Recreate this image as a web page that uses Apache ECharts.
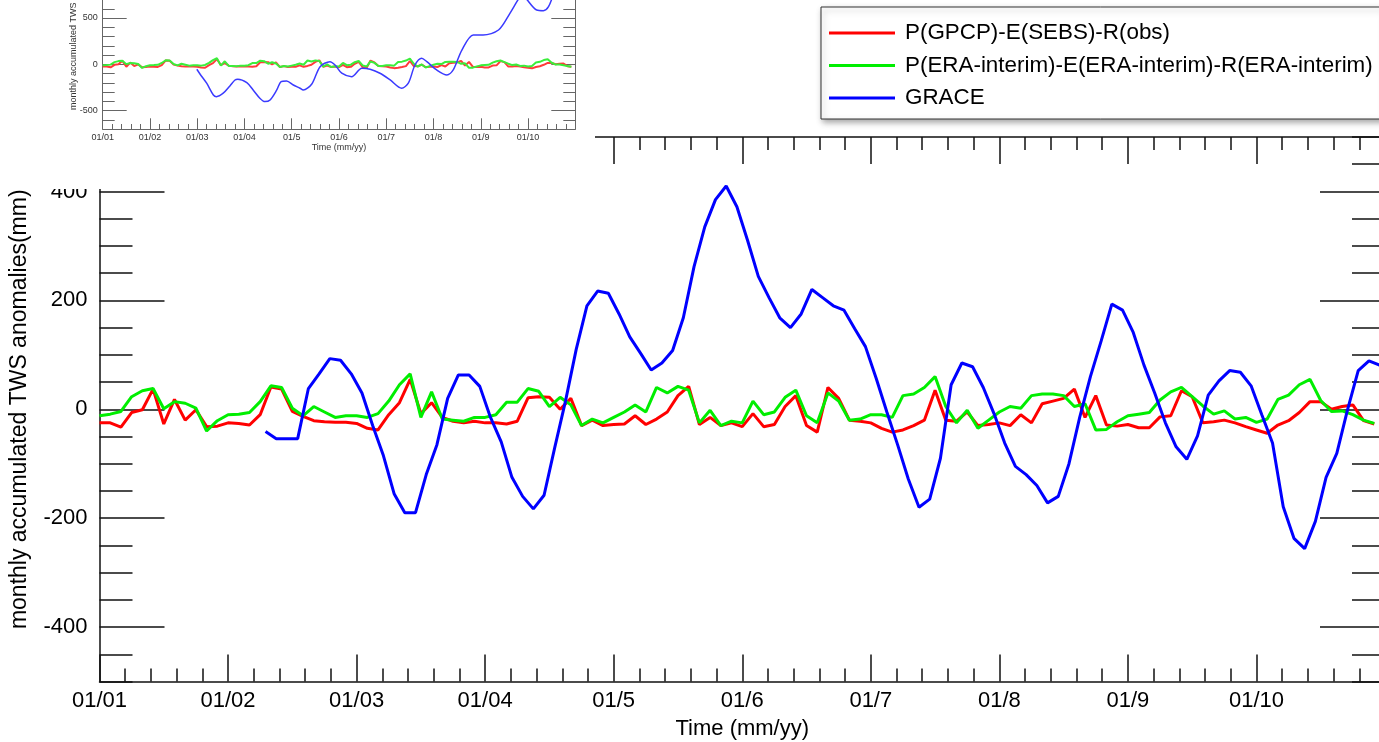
<!DOCTYPE html>
<html>
<head>
<meta charset="utf-8">
<title>TWS anomalies</title>
<script src="https://cdn.jsdelivr.net/npm/echarts@6/dist/echarts.min.js"></script>
<style>
html, body { margin: 0; padding: 0; background: #fff; }
#chart { width: 1379px; height: 742px; }
</style>
</head>
<body>
<div id="chart"></div>
<script>
// x = month index, 0 = Jan 2001
var yearLabels = ['01/01', '01/02', '01/03', '01/04', '01/5', '01/6', '01/7', '01/8', '01/9', '01/10'];

// P(GPCP)-E(SEBS)-R(obs), one value per month
var gpcpSebs = [
  -25, -25, -33, -6, -1, 37, -27, 18, -20, -1, -32, -31,
  -25, -26, -29, -10, 41, 37, -4, -13, -21, -23, -24, -24,
  -26, -35, -38, -10, 12, 55, -8, 12, -15, -22, -25, -22,
  -25, -25, -27, -22, 21, 23, 22, 0, 20, -30, -20, -30,
  -28, -27, -12, -28, -18, -5, 25, 42, -28, -15, -30, -25,
  -32, -8, -32, -28, 5, 25, -30, -42, 40, 20, -20, -22,
  -25, -35, -42, -38, -30, -20, 35, -20, -22, -5, -30, -28,
  -25, -30, -10, -25, 10, 15, 20, 37, -15, 25, -29, -31,
  -28, -34, -34, -14, -12, 34, 23, -25, -23, -20, -25, -32,
  -38, -44, -29, -21, -6, 14, 14, 0, 5, 8, -21, -27
];

// P(ERA-interim)-E(ERA-interim)-R(ERA-interim)
var eraInterim = [
  -12, -9, -4, 23, 34, 38, 1, 14, 11, 2, -40, -21,
  -10, -9, -6, 14, 43, 40, 2, -12, 5, -5, -15, -12,
  -12, -15, -8, 15, 45, 65, -15, 32, -18, -20, -22, -15,
  -15, -10, 13, 13, 38, 33, 5, 22, 8, -30, -18, -25,
  -15, -5, 8, -5, 40, 30, 42, 35, -25, -2, -30, -22,
  -25, 15, -10, -5, 22, 35, -12, -25, 30, 15, -20, -18,
  -10, -10, -15, 25, 28, 40, 60, 5, -25, -2, -35, -20,
  -5, 5, 2, 25, 28, 28, 25, 5, 10, -38, -37, -23,
  -12, -9, -6, 17, 32, 40, 23, 6, -9, -3, -18, -15,
  -24, -18, 18, 26, 45, 55, 16, -4, -3, -10, -20, -26
];

// GRACE, mid-month values from Apr 2002
var graceStart = 15.5;
var grace = [
  -41, -54, -54, -54, 38, 65, 93, 90, 65,
  30, -30, -85, -155, -190, -190, -120, -65, 20, 63, 63, 42,
  -15, -60, -125, -160, -183, -158, -70, 15, 110, 190, 217, 213,
  175, 133, 103, 72, 85, 108, 168, 262, 335, 385, 410, 372,
  310, 244, 205, 168, 150, 175, 220, 205, 190, 182, 148, 115,
  57, -5, -65, -128, -180, -165, -90, 45, 85, 78, 40, -8,
  -62, -105, -120, -140, -172, -160, -100, -15, 60, 125, 193, 182,
  141, 81, 30, -25, -69, -92, -49, 26, 52, 71, 68, 43,
  -10, -62, -179, -237, -256, -206, -125, -81, -1, 71, 89, 81
];

// inset: the original plot with the accumulated GRACE curve
var insetGraceMonths = [23.9, 24.7, 26.4, 28.1, 28.9, 30.6, 32.3, 33.6, 34.3, 36.6, 38.2, 39.9, 41.2, 42.5, 44.2, 45.3,
  46.7, 48.4, 50.1, 50.9, 53.1, 55.2, 57.7, 59.0, 60.7, 63.2, 65.8, 67.9, 70.4, 73.0, 75.9, 77.6, 79.3, 81.0,
  82.3, 84.8, 87.4, 89.0, 91.2, 94.1, 96.6, 100.5, 103.4, 105.5, 106.6, 107.7, 110.2, 111.9, 113.2, 114.5, 116];
var insetGrace = [-54, -105, -205, -332, -350, -313, -234, -170, -162, -199, -278, -367, -404, -386, -278, -188,
  -180, -224, -259, -278, -213, -26, 28, -8, -97, -134, -43, -54, -97, -170, -259, -205, -8, 65,
  28, -62, -116, -62, 154, 316, 316, 370, 551, 700, 760, 700, 586, 579, 622, 760, 900];

var yMajor = [-400, -200, 0, 200, 400];
var insetYMajor = [-500, 0, 500];

var seriesNames = ['P(GPCP)-E(SEBS)-R(obs)', 'P(ERA-interim)-E(ERA-interim)-R(ERA-interim)', 'GRACE'];
var colors = ['#ff0000', '#00ee00', '#0000ff'];
var font = '"Liberation Sans", Arial, Helvetica, sans-serif';

function monthPairs(arr, start) {
    var out = [];
    for (var i = 0; i < arr.length; i++) out.push([start + i, arr[i]]);
    return out;
}
function zipPairs(xs, ys) {
    var out = [];
    for (var i = 0; i < xs.length; i++) out.push([xs[i], ys[i]]);
    return out;
}
function yearLabel(v) {
    var i = Math.round(v / 12);
    return (v % 12 === 0 && i < yearLabels.length) ? yearLabels[i] : '';
}

var chart = echarts.init(document.getElementById('chart'));

function mainX(pos) {
    return {
        type: 'value', gridIndex: 0, position: pos, min: 0, max: 120, interval: 12,
        axisLine: { show: true, onZero: false, lineStyle: { color: '#111', width: 1.5 } },
        axisTick: { show: true, inside: true, length: 27, lineStyle: { color: '#111', width: 1.5 } },
        minorTick: { show: true, splitNumber: 5, length: 13, lineStyle: { color: '#111', width: 1.5 } },
        splitLine: { show: false },
        axisLabel: pos === 'bottom' ? {
            formatter: yearLabel, margin: 8, fontSize: 22, fontFamily: font, color: '#000',
            showMaxLabel: false
        } : { show: false },
        name: pos === 'bottom' ? 'Time (mm/yy)' : '',
        nameLocation: 'middle', nameGap: 36,
        nameTextStyle: { fontSize: 22, fontFamily: font, color: '#000' }
    };
}
function mainY(pos, major) {
    var ax = {
        type: 'value', gridIndex: 0, position: pos, min: -500, max: 500,
        axisLine: { show: !major, onZero: false, lineStyle: { color: '#111', width: 1.5 } },
        splitLine: { show: false },
        axisLabel: { show: false }
    };
    if (major) {
        ax.axisTick = { show: true, inside: true, length: 65, customValues: yMajor, lineStyle: { color: '#111', width: 1.5 } };
        if (pos === 'left') {
            ax.axisLabel = { show: true, customValues: yMajor, margin: 12, fontSize: 22, fontFamily: font, color: '#000' };
        }
    } else {
        ax.interval = 50;
        ax.axisTick = { show: true, inside: true, length: 33, lineStyle: { color: '#111', width: 1.5 } };
        if (pos === 'left') {
            ax.name = 'monthly accumulated TWS anomalies(mm)';
            ax.nameLocation = 'middle';
            ax.nameGap = 68;
            ax.nameTextStyle = { fontSize: 23, fontFamily: font, color: '#000' };
        }
    }
    return ax;
}
function insetY(pos, major) {
    var ax = {
        type: 'value', gridIndex: 1, position: pos, min: -700, max: 700, z: 20,
        axisLine: { show: !major, onZero: false, lineStyle: { color: '#666', width: 1 } },
        splitLine: { show: false },
        axisLabel: { show: false }
    };
    if (major) {
        ax.axisTick = { show: true, inside: true, length: 24, customValues: insetYMajor, lineStyle: { color: '#666', width: 1 } };
        if (pos === 'left') {
            ax.axisLabel = { show: true, customValues: insetYMajor, margin: 5, fontSize: 9, fontFamily: font, color: '#333' };
        }
    } else {
        ax.interval = 100;
        ax.axisTick = { show: true, inside: true, length: 12, lineStyle: { color: '#666', width: 1 } };
    }
    return ax;
}

var option = {
    animation: false,
    backgroundColor: '#fff',
    grid: [
        // main plot runs on to Jan 2011, a few pixels past the right edge of the picture
        { left: 99.5, top: 137, width: 1285.5, height: 544.5, outerBoundsMode: 'none' },
        { left: 102.7, top: -0.5, width: 472.6, height: 129.5, outerBoundsMode: 'none' }
    ],
    graphic: [
        { type: 'rect', z: 10, shape: { x: 0, y: 0, width: 595, height: 189 }, style: { fill: '#fff' } },
        {
            type: 'text', z: 30, x: 74, y: 110, rotation: Math.PI / 2,
            style: {
                text: 'monthly accumulated TWS anomalies(mm)', font: '9px ' + font, fill: '#333',
                textAlign: 'left', textVerticalAlign: 'middle'
            }
        }
    ],
    legend: {
        data: seriesNames, orient: 'vertical', left: 821, top: 7,
        padding: [13, 10, 8, 8], itemGap: 6.5, itemWidth: 66, itemHeight: 3, icon: 'rect',
        backgroundColor: '#fff', borderColor: '#333', borderWidth: 1,
        shadowColor: 'rgba(0,0,0,0.35)', shadowBlur: 6, shadowOffsetX: 2, shadowOffsetY: 3,
        selectedMode: false,
        textStyle: { fontFamily: font, fontSize: 22.4, color: '#000', lineHeight: 26, padding: [0, 0, 0, 5] }
    },
    xAxis: [
        mainX('bottom'),
        mainX('top'),
        {
            type: 'value', gridIndex: 1, position: 'bottom', min: 0, max: 120, interval: 12, z: 20,
            axisLine: { show: true, onZero: false, lineStyle: { color: '#666', width: 1 } },
            axisTick: { show: true, inside: true, length: 10.7, lineStyle: { color: '#666', width: 1 } },
            minorTick: { show: true, splitNumber: 5, length: 5, lineStyle: { color: '#666', width: 1 } },
            splitLine: { show: false },
            axisLabel: { formatter: yearLabel, margin: 4, fontSize: 9, fontFamily: font, color: '#333', showMaxLabel: false },
            name: 'Time (mm/yy)', nameLocation: 'middle', nameGap: 12,
            nameTextStyle: { fontSize: 9, fontFamily: font, color: '#333' }
        }
    ],
    yAxis: [
        mainY('left', false), mainY('left', true), mainY('right', false), mainY('right', true),
        insetY('left', false), insetY('left', true), insetY('right', false), insetY('right', true)
    ],
    series: [
        {
            name: seriesNames[0], type: 'line', xAxisIndex: 0, yAxisIndex: 0, symbol: 'none',
            data: monthPairs(gpcpSebs, 0), color: colors[0], lineStyle: { width: 3, color: colors[0] }
        },
        {
            name: seriesNames[1], type: 'line', xAxisIndex: 0, yAxisIndex: 0, symbol: 'none',
            data: monthPairs(eraInterim, 0), color: colors[1], lineStyle: { width: 3, color: colors[1] }
        },
        {
            name: seriesNames[2], type: 'line', xAxisIndex: 0, yAxisIndex: 0, symbol: 'none',
            data: monthPairs(grace, graceStart), color: colors[2], lineStyle: { width: 3, color: colors[2] }
        },
        {
            name: 'inset red', type: 'line', xAxisIndex: 2, yAxisIndex: 4, symbol: 'none', z: 20,
            data: monthPairs(gpcpSebs, 0), lineStyle: { width: 2, color: '#ff3a3a' }
        },
        {
            name: 'inset green', type: 'line', xAxisIndex: 2, yAxisIndex: 4, symbol: 'none', z: 21,
            data: monthPairs(eraInterim, 0), lineStyle: { width: 2, color: '#3aee3a' }
        },
        {
            name: 'inset blue', type: 'line', xAxisIndex: 2, yAxisIndex: 4, symbol: 'none', z: 22, smooth: 0.3,
            data: zipPairs(insetGraceMonths, insetGrace), lineStyle: { width: 1.5, color: '#3a3aff' }
        }
    ]
};
chart.setOption(option);
</script>
</body>
</html>
